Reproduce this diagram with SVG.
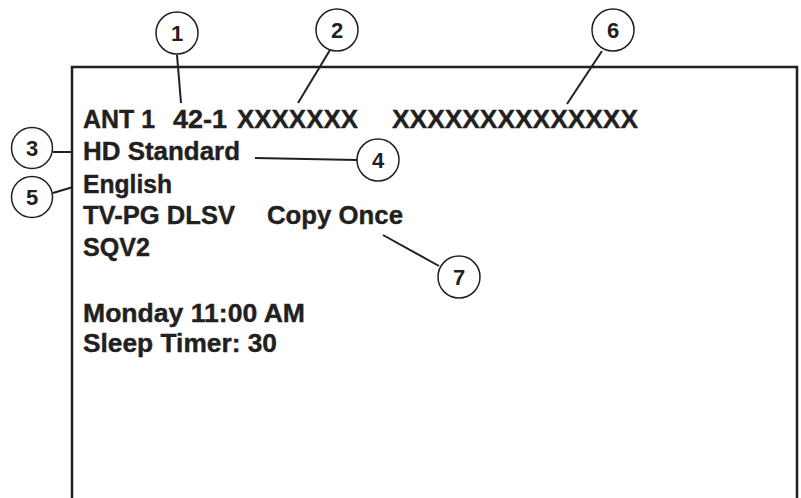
<svg xmlns="http://www.w3.org/2000/svg" width="801" height="498" viewBox="0 0 801 498">
<style>
.t{font-family:"Liberation Sans",Arial,sans-serif;font-weight:bold;font-size:25.5px;fill:#231f20;stroke:#231f20;stroke-width:0.4}
.n{font-family:"Liberation Sans",Arial,sans-serif;font-weight:bold;font-size:22px;fill:#231f20;text-anchor:middle}
.c{fill:#fff;stroke:#231f20;stroke-width:1.5}
.l{stroke:#231f20;stroke-width:2;fill:none}
</style>
<rect width="801" height="498" fill="#fff"/>
<g id="frame"><path d="M72 498V67H797V498" fill="none" stroke="#231f20" stroke-width="2.5"/></g>
<g id="screen-text">
<text class="t" x="83" y="128" textLength="72" lengthAdjust="spacingAndGlyphs">ANT 1</text>
<text class="t" x="173" y="128" textLength="54" lengthAdjust="spacingAndGlyphs">42-1</text>
<text class="t" x="237" y="128" textLength="121" lengthAdjust="spacingAndGlyphs">XXXXXXX</text>
<text class="t" x="392" y="128" textLength="246" lengthAdjust="spacingAndGlyphs">XXXXXXXXXXXXXX</text>
<text class="t" x="83" y="160" textLength="157" lengthAdjust="spacingAndGlyphs">HD Standard</text>
<text class="t" x="83" y="193" textLength="89" lengthAdjust="spacingAndGlyphs">English</text>
<text class="t" x="83" y="224" textLength="152" lengthAdjust="spacingAndGlyphs">TV-PG DLSV</text>
<text class="t" x="267" y="224" textLength="136" lengthAdjust="spacingAndGlyphs">Copy Once</text>
<text class="t" x="83" y="256" textLength="67" lengthAdjust="spacingAndGlyphs">SQV2</text>
<text class="t" x="83" y="322" textLength="222" lengthAdjust="spacingAndGlyphs">Monday 11:00 AM</text>
<text class="t" x="83" y="352" textLength="194" lengthAdjust="spacingAndGlyphs">Sleep Timer: 30</text>
</g>
<g id="connectors">
<line class="l" x1="177" y1="55" x2="181" y2="103"/>
<line class="l" x1="330" y1="50" x2="298" y2="103"/>
<line class="l" x1="602" y1="51" x2="567" y2="104"/>
<line class="l" x1="53" y1="152" x2="72" y2="152"/>
<line class="l" x1="255" y1="158" x2="357" y2="160"/>
<line class="l" x1="53" y1="193" x2="73" y2="187"/>
<line class="l" x1="383" y1="235" x2="439" y2="266"/>
</g>
<g id="callout-1"><circle class="c" cx="177" cy="33" r="21"/><text class="n" x="177" y="41">1</text></g>
<g id="callout-2"><circle class="c" cx="337" cy="30" r="21"/><text class="n" x="337" y="38">2</text></g>
<g id="callout-3"><circle class="c" cx="32" cy="148" r="20.5"/><text class="n" x="32" y="156">3</text></g>
<g id="callout-4"><circle class="c" cx="378" cy="160" r="21"/><text class="n" x="378" y="168">4</text></g>
<g id="callout-5"><circle class="c" cx="32" cy="197" r="20.5"/><text class="n" x="32" y="205">5</text></g>
<g id="callout-6"><circle class="c" cx="613" cy="30" r="21"/><text class="n" x="613" y="38">6</text></g>
<g id="callout-7"><circle class="c" cx="459" cy="277" r="21"/><text class="n" x="459" y="285">7</text></g>
</svg>
